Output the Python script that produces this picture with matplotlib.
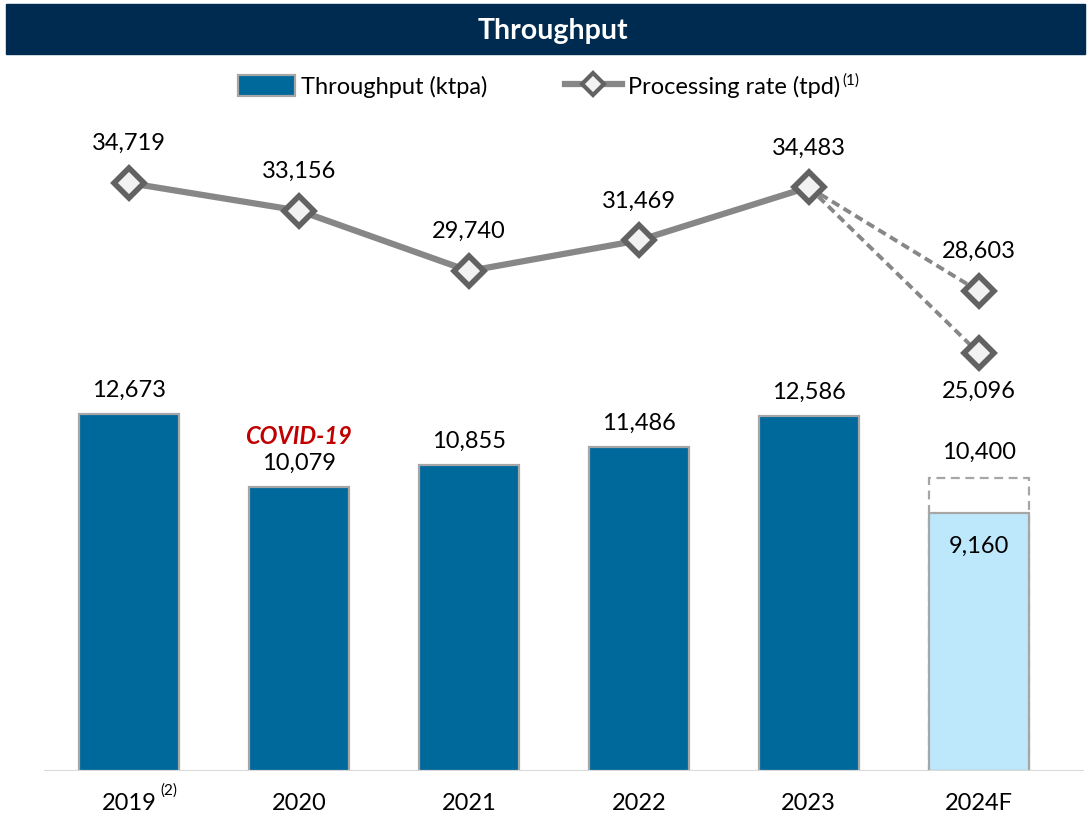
import matplotlib
matplotlib.use('Agg')
import matplotlib.pyplot as plt
from matplotlib.patches import Rectangle, Patch
from matplotlib.lines import Line2D

plt.rcParams['font.family'] = ['Lato', 'DejaVu Sans']

# data
years = ['2019', '2020', '2021', '2022', '2023', '2024F']
throughput = [12673, 10079, 10855, 11486, 12586, 9160]
throughput_2024_high = 10400
rate = [34719, 33156, 29740, 31469, 34483]
rate_2024_high = 28603
rate_2024_low = 25096

BAR = '#00699C'
LIGHT = '#BDE7FA'
EDGE = '#A6A6A6'
LINE = '#878787'
MARK = '#626262'
NAVY = '#002B50'
FS = 17

fig = plt.figure(figsize=(10.89, 8.20), dpi=100)

# title band
fig.patches.append(Rectangle((6 / 1089, 1 - 55 / 820), 1079 / 1089, 50 / 820,
                             transform=fig.transFigure, color=NAVY, zorder=0))
fig.text(0.508, 1 - 31 / 820, 'Throughput', color='white', fontsize=20.5,
         fontweight='bold', ha='center', va='center')

ax = fig.add_axes([44 / 1089, 48 / 820, 1040 / 1089, 662 / 820])
x = list(range(len(years)))
w = 0.59

# dashed upper range for 2024F, then the bars
ax.bar(5, throughput_2024_high, width=w, facecolor='none', edgecolor=EDGE,
       linestyle=(0, (4, 2.5)), linewidth=1.6, zorder=2)
colors = [BAR] * 5 + [LIGHT]
ax.bar(x, throughput, width=w, color=colors, edgecolor=EDGE, linewidth=1.6, zorder=3)

ax.set_xlim(-0.5, 5.62)
ax.set_ylim(0, 23500)
ax.axhline(0, color='#D9D9D9', linewidth=1.5, zorder=4)
for s in ax.spines.values():
    s.set_visible(False)
ax.set_yticks([])
ax.set_xticks(x)
ax.set_xticklabels(years, fontsize=FS)
ax.tick_params(axis='x', length=0, pad=15)
ax.annotate('(2)', xy=(0, 0), xycoords=('data', 'axes fraction'), xytext=(29, -13),
            textcoords='offset points', fontsize=11, ha='center', va='center')

for i, v in enumerate(throughput[:5]):
    ax.annotate(f'{v:,}', (i, v), xytext=(0, 18), textcoords='offset points',
                ha='center', va='center', fontsize=FS)
ax.annotate(f'{throughput_2024_high:,}', (5, throughput_2024_high), xytext=(0, 19),
            textcoords='offset points', ha='center', va='center', fontsize=FS)
ax.annotate(f'{throughput[5]:,}', (5, throughput[5]), xytext=(0, -23),
            textcoords='offset points', ha='center', va='center', fontsize=FS)
ax.annotate('COVID-19', (1, throughput[1]), xytext=(0, 37), textcoords='offset points',
            ha='center', va='center', fontsize=FS, color='#C00000',
            fontweight='bold', fontstyle='italic')

# processing rate on a second axis
ax2 = ax.twinx()
ax2.set_ylim(1442, 38907)
ax2.set_yticks([])
for s in ax2.spines.values():
    s.set_visible(False)
mk = dict(marker='D', markersize=15, markerfacecolor='#F2F2F2',
          markeredgecolor=MARK, markeredgewidth=4)
for hi in (rate_2024_high, rate_2024_low):
    ax2.plot([4, 5], [rate[4], hi], color=LINE, linewidth=2.8,
             linestyle=(0, (2.2, 1.3)), zorder=2)
ax2.plot([5, 5], [rate_2024_high, rate_2024_low], linestyle='none', zorder=3, **mk)
ax2.plot(x[:5], rate, color=LINE, linewidth=4.5, zorder=3, **mk)

for i, v in enumerate(rate):
    ax2.annotate(f'{v:,}', (i, v), xytext=(0, 29), textcoords='offset points',
                 ha='center', va='center', fontsize=FS)
ax2.annotate(f'{rate_2024_high:,}', (5, rate_2024_high), xytext=(0, 29),
             textcoords='offset points', ha='center', va='center', fontsize=FS)
ax2.annotate(f'{rate_2024_low:,}', (5, rate_2024_low), xytext=(0, -27),
             textcoords='offset points', ha='center', va='center', fontsize=FS)

handles = [Patch(facecolor=BAR, edgecolor=EDGE, linewidth=1.6),
           Line2D([], [], color=LINE, linewidth=4.5, marker='D', markersize=11,
                  markerfacecolor='#F2F2F2', markeredgecolor=MARK, markeredgewidth=3)]
labels = ['Throughput (ktpa)', 'Processing rate (tpd)']
leg = fig.legend(handles, labels, loc='center', bbox_to_anchor=(0.495, 1 - 87 / 820),
                 ncol=2, frameon=False, fontsize=FS, handlelength=2.4, handleheight=1.0,
                 handletextpad=0.25, columnspacing=3.3)

# superscript note after the legend label
fig.canvas.draw()
bb = leg.get_texts()[1].get_window_extent()
fig.text((bb.x1 + 2) / fig.bbox.width, (bb.y1 - 4) / fig.bbox.height, '(1)',
         fontsize=11, ha='left', va='center')

fig.savefig('out.png', dpi=100)
